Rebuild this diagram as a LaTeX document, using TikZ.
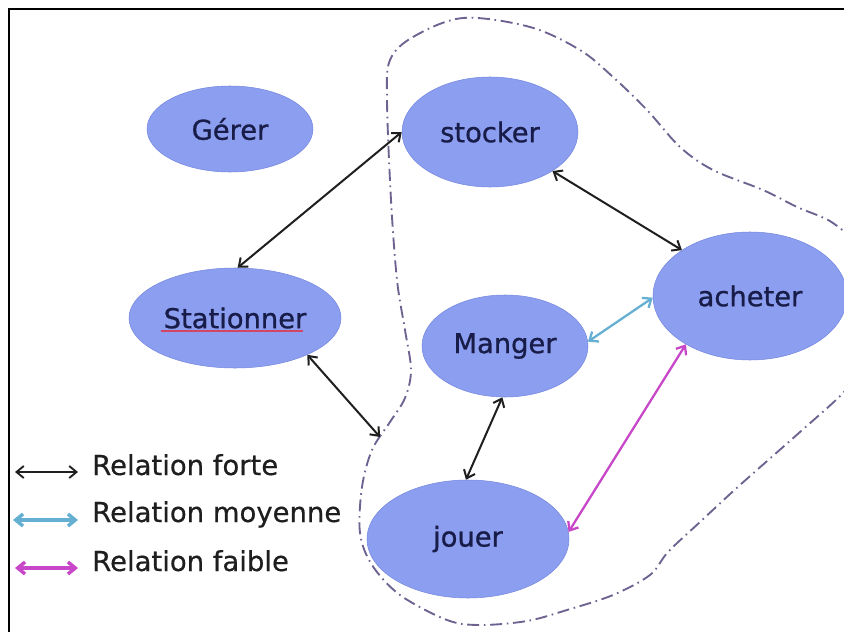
\documentclass[tikz,border=0pt]{standalone}
\usepackage{fontspec}
\setmainfont{DejaVu Sans}
\newfontfamily\nodefont[FakeBold=0.9]{DejaVu Sans}
\newfontfamily\legfont[FakeBold=0.4]{DejaVu Sans}
\usetikzlibrary{arrows.meta,shapes.geometric}
\definecolor{ellfill}{RGB}{140,158,240}
\definecolor{elldraw}{RGB}{118,136,222}
\definecolor{ntext}{RGB}{24,28,72}
\definecolor{dashc}{RGB}{110,98,145}
\definecolor{relblue}{RGB}{100,175,210}
\definecolor{relpink}{RGB}{200,70,200}
\definecolor{squig}{RGB}{210,70,100}
\definecolor{legtxt}{RGB}{30,30,30}
\begin{document}
\begin{tikzpicture}[x=0.75pt,y=-0.75pt,
  ell/.style 2 args={ellipse, fill=ellfill, draw=elldraw, line width=0.4pt,
    text=ntext, font=\nodefont\fontsize{20.5}{24}\selectfont, inner sep=0pt,
    minimum width=#1*1.5pt, minimum height=#2*1.5pt},
  strong/.style={{Straight Barb[length=5.5pt,width=9pt]}-{Straight Barb[length=5.5pt,width=9pt]}, line width=1.5pt, black!88},
  medium/.style={{Straight Barb[length=5.5pt,width=9pt]}-{Straight Barb[length=5.5pt,width=9pt]}, line width=1.7pt, relblue},
  weak/.style={{Straight Barb[length=5.5pt,width=9pt]}-{Straight Barb[length=5.5pt,width=9pt]}, line width=1.7pt, relpink},
  legstrong/.style={strong, line width=1.4pt},
  legmedium/.style={medium, line width=2.6pt},
  legweak/.style={weak, line width=2.6pt},
  legtext/.style={anchor=base west, inner sep=0pt, text=legtxt, font=\legfont\fontsize{20.6}{24}\selectfont},
  group/.style={dashc, line width=1.4pt, dash pattern=on 9pt off 3.5pt on 1.2pt off 3.5pt}
]
\useasboundingbox (0,0) rectangle (844,632);
\fill[white] (0,0) rectangle (844,632);

% frame (cropped at right and bottom)
\draw[line width=1.6pt, black] (9,632) -- (9,9) -- (844,9);

% grouping curve
\begin{scope}
\clip (0,0) rectangle (844,632);
\draw[group] plot[smooth cycle, tension=0.55] coordinates {
 (390,60) (413,37) (463,18) (530,27) (580,50) (613,77) (647,110) (680,147)
 (713,170) (763,190) (797,207) (833,223) (858,250) (872,310) (862,365)
 (844,392) (800,432) (740,485) (700,522) (668,552) (650,575) (613,595)
 (567,610) (527,621) (480,625) (447,620) (400,595) (372,565) (360,533)
 (362,487) (372,450) (390,422) (405,398) (411,370) (405,330) (397,280)
 (391,200) (387,100)};
\end{scope}

% nodes
\node[ell={83}{43}] (G) at (230,129) {Gérer};
\node[ell={88}{55}] (S) at (490,132) {stocker};
\node[ell={106}{50}] (St) at (235,318) {Stationner};
\node[ell={83}{51}] (M) at (505,346) {Manger};
\node[ell={97}{64}] (A) at (750,296) {acheter};
\node[ell={101}{59}] (J) at (468,539) {jouer};

% spell-check underline under Stationner
\draw[squig, line width=0.9pt] (161,331) -- (303,331);

% connectors
\coordinate (fe) at (380,437);
\draw[strong] (S.west) -- (St.87);
\draw[strong] (S.-32) -- (A.146);
\draw[strong] (St.-27) -- (fe);
\draw[strong] (M.-93) -- (J.92);
\draw[medium] (M.3) -- (A.181);
\draw[weak] (J.4) -- (A.217);

% legend
\coordinate (l1a) at (15,472); \coordinate (l1b) at (78,472);
\coordinate (l2a) at (13,520); \coordinate (l2b) at (78,520);
\coordinate (l3a) at (15,568); \coordinate (l3b) at (78,568);
\draw[legstrong] (l1a) -- (l1b);
\draw[legmedium] (l2a) -- (l2b);
\draw[legweak] (l3a) -- (l3b);
\node[legtext] (t1) at (92,475) {Relation forte};
\node[legtext] (t2) at (92,522) {Relation moyenne};
\node[legtext] (t3) at (92,571) {Relation faible};
\end{tikzpicture}
\end{document}
